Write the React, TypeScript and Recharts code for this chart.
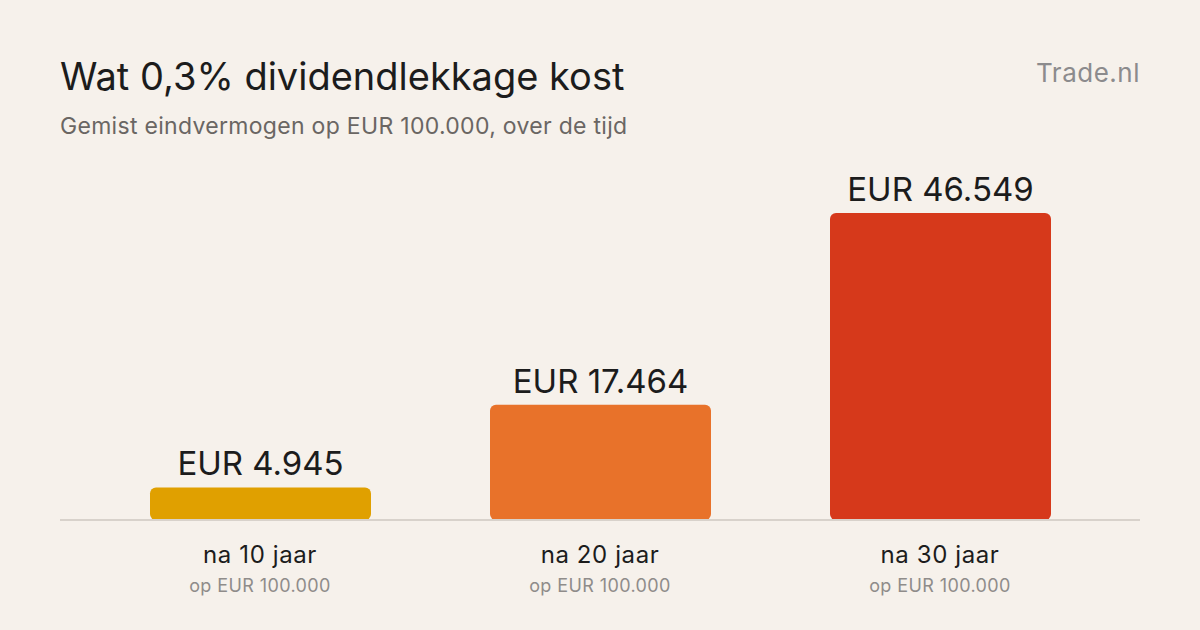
import { BarChart, Bar, XAxis, YAxis, Cell, LabelList } from 'recharts';

const periods = ['na 10 jaar', 'na 20 jaar', 'na 30 jaar'];
const missed = [4945, 17464, 46549];
const barColors = ['#e0a000', '#e8722a', '#d6391b'];
const baseLabel = 'op EUR 100.000';

const data = periods.map((period, i) => ({ period, missed: missed[i] }));

const FONT = 'Inter, "Liberation Sans", sans-serif';

const fmt = (v: number) => `EUR ${v.toLocaleString('de-DE')}`;

function PeriodTick({ x, y, payload }: any) {
  return (
    <g transform={`translate(${x},${y})`}>
      <text textAnchor="middle" dy={43} fill="#1c1c1c" fontSize={24} letterSpacing={0.6} fontFamily={FONT}>
        {payload.value}
      </text>
      <text textAnchor="middle" dy={72} fill="#8f8c8a" fontSize={18} letterSpacing={0.4} fontFamily={FONT}>
        {baseLabel}
      </text>
    </g>
  );
}

export default function App() {
  return (
    <div
      style={{
        position: 'fixed',
        left: 0,
        top: 0,
        width: 1200,
        height: 630,
        background: '#f6f1eb',
        fontFamily: FONT,
      }}
    >
      <div style={{ position: 'absolute', left: 60, top: 54, fontSize: 38, color: '#1c1c1c', lineHeight: 1.2 }}>
        Wat 0,3% dividendlekkage kost
      </div>
      <div style={{ position: 'absolute', left: 60, top: 113, fontSize: 23, letterSpacing: 0.3, color: '#6a6663', lineHeight: 1.2 }}>
        Gemist eindvermogen op EUR 100.000, over de tijd
      </div>
      <div style={{ position: 'absolute', right: 60, top: 57, fontSize: 26, letterSpacing: 0.5, color: '#8c8b8d', lineHeight: 1.2 }}>
        Trade.nl
      </div>
      <BarChart
        width={1200}
        height={630}
        data={data}
        margin={{ top: 120, right: 60, bottom: 30, left: 60 }}
        style={{ position: 'absolute', left: 0, top: 0 }}
      >
        <YAxis hide domain={[0, 60650]} />
        <XAxis
          dataKey="period"
          height={80}
          padding={{ left: 30, right: 30 }}
          axisLine={{ stroke: '#d8d2cb', strokeWidth: 2 }}
          tickLine={false}
          tickSize={0}
          tickMargin={0}
          tick={<PeriodTick />}
          interval={0}
        />
        <Bar dataKey="missed" barSize={221} radius={6} isAnimationActive={false}>
          {data.map((d, i) => (
            <Cell key={d.period} fill={barColors[i]} />
          ))}
          <LabelList
            dataKey="missed"
            position="top"
            offset={12}
            formatter={(v: number) => fmt(v)}
            fill="#1c1c1c"
            fontSize={33}
            fontFamily={FONT}
          />
        </Bar>
      </BarChart>
    </div>
  );
}
